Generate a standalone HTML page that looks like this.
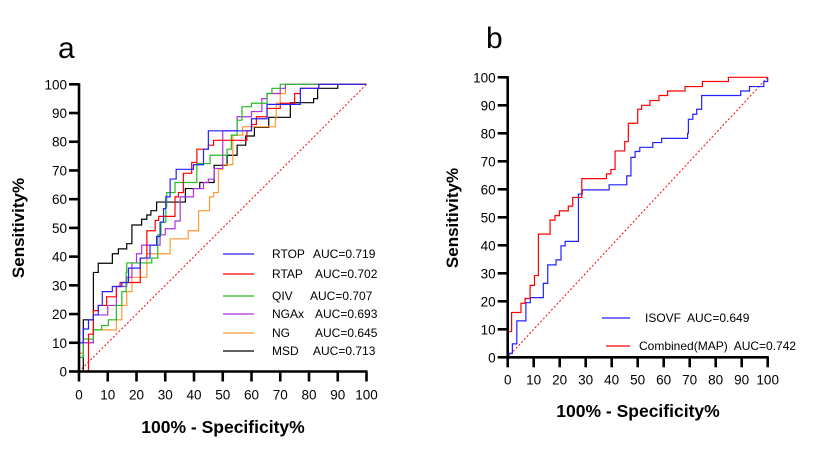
<!DOCTYPE html>
<html><head><meta charset="utf-8"><style>
body{margin:0;background:#fff;}
svg{display:block;font-family:"Liberation Sans",sans-serif;}
text{white-space:pre;}
</style></head><body>
<svg id="s" width="820" height="459">
<text x="58" y="58" font-size="30">a</text>
<text x="486" y="48" font-size="30">b</text>
<text transform="translate(24,228) rotate(-90)" text-anchor="middle" font-size="17" font-weight="bold">Sensitivity%</text>
<text x="223" y="433" text-anchor="middle" font-size="17.5" font-weight="bold">100% - Specificity%</text>
<text transform="translate(458,218) rotate(-90)" text-anchor="middle" font-size="17" font-weight="bold">Sensitivity%</text>
<text x="638" y="417" text-anchor="middle" font-size="17.5" font-weight="bold">100% - Specificity%</text>
</svg>
<script>
const ticks=[0,10,20,30,40,50,60,70,80,90,100];
const rtopX=[0,1.5,3.3,5,6.7,8.1,11.6,14.9,17.2,21.3,24.7,27,28.2,29.4,30.2,31.7,33.8,39.8,43.3,45,45,57,60,65.4,77,83.4,100];
const rtopY=[10,14.8,18,19.7,23,27.8,29.6,31,36,39.5,44,47,52,56.7,60.8,67,70.4,72,77.4,78.8,83.8,83.8,88,93,98.6,100,100];
const rtapX=[0,3.3,5,6.7,9.6,13,14.3,21.3,23.6,26.5,27.7,33.4,34.6,36.3,39.2,41,45,46.8,57,58.4,60,61.7,65.4,70,75,77,83.4,100];
const rtapY=[0,13,21.2,23,26,29.6,31,39.5,49,52.6,54,60.8,62.3,69,72.8,77.4,78.8,80.5,80.5,83.8,86,88.7,91.6,93.4,96.8,98.6,100,100];
const qivX=[0,1.5,5,7.9,10.2,13,14.9,16.4,16.6,25.3,27.4,28.5,30.2,30.5,33.4,38.3,41,45.6,51.5,53,55,56.7,60,65.4,67.1,70,100];
const qivY=[4.9,11.3,14.5,16,18,23,27.8,34.5,37.8,39.5,47.6,52,57.3,62.3,65.8,65.8,72.4,75.3,77.4,82.3,87.5,92.2,93.4,96.8,98.6,100,100];
const ngaxX=[0,1.5,5,10,13,16.6,18.4,20,21.8,28.2,30,33.4,35.2,39.8,43.3,45,47,50,50,53,55,60,63.6,65.4,70,71.8,100];
const ngaxY=[4.9,10,19.7,23,29.6,32.8,37.8,41,44,47.6,49.7,52.4,60.8,63.7,65.8,67,70.7,74,83.8,83.8,88.7,90.5,95,96.8,98.6,100,100];
const ngX=[0,1.5,5,13,14.9,16.6,18.4,23.6,30,31.7,38,41.6,45.4,46.8,48.5,50,53.5,56.9,66.5,68.3,68.6,70,71.8,100];
const ngY=[6.4,10,14.5,18,23,27.8,32.8,41,41,46.2,49,56,60.8,62.3,70.4,72,82.3,85.2,85.2,88,93.4,96.8,100,100];
const msdX=[0,1.5,5,6.7,11.6,13.7,16.6,18.4,21.8,23.6,25,27,30,37,42,47,51.5,55,58,61,66,73.5,81.6,83,90,100];
const msdY=[0,18,34.5,37.7,41,42.7,44.5,51,53,54.5,56,59,59,63.7,65.8,71.8,75.3,78.8,82,85,88.5,93.6,95,98.6,100,100];
const isoX=[0,0.5,1.8,3.5,7,8.7,13.3,13.7,15.4,18.6,20.5,22.1,27.2,27.2,28.7,39,45.8,47.4,49,50.8,55.8,59.2,69.2,69.5,71.2,72.7,74.6,89.6,89.6,93,98.5,100];
const isoY=[0,1.4,4.8,13,19.5,21.3,21.3,26.4,33,34.8,39.8,41.4,41.4,58.3,59.8,61.6,64.8,71.4,73.5,75,76.7,78.2,80,85,86.8,88.6,93.5,93.5,95.1,96.7,98.5,100];
const comX=[0,0.2,1.5,5.1,6.7,8.6,10.3,11.8,16.3,18.2,19.9,23.3,25,28.5,38,39.7,41.3,45,46.4,50,51.5,54.7,58.2,61.5,68.2,74.9,84.9,100];
const comY=[0,9.2,16,19.3,21,25.7,29.2,44,49,50.6,52.3,54,57.1,63.8,65.5,67.1,73.7,77,83.6,88.6,90,91.7,93.5,95.1,96.7,98.5,100,100];
const NS='http://www.w3.org/2000/svg';
const svg=document.getElementById('s');
function mk(tag,attrs,parent){const e=document.createElementNS(NS,tag);for(const k in attrs)e.setAttribute(k,attrs[k]);(parent||svg).appendChild(e);return e;}
function chart(x0,x1,y0,y1,series,legend,suffix,xlOff){
  const sx=v=>x0+(x1-x0)*v/100, sy=v=>y0-(y0-y1)*v/100;
  const g=mk('g',{});
  
  
  const diag=mk('line',{x1:sx(0),y1:sy(0),x2:sx(100),y2:sy(100),stroke:'#f00','stroke-width':1,'stroke-dasharray':'2,2'},g);
  
  
  series.forEach(s=>{
    let d='M'+sx(s.x[0])+','+sy(s.y[0]);
    for(let i=1;i<s.x.length;i++){d+=' H'+sx(s.x[i])+' V'+sy(s.y[i]);}
    const p=mk('path',{d:d,fill:'none',stroke:s.c,'stroke-width':1.2},g);
    
    
  });
  const ax=mk('path',{d:`M${x0},${y1-1} V${y0} H${x1+1}`,fill:'none',stroke:'#000','stroke-width':2.6},g);
  
  
  ticks.forEach(t=>{
    mk('line',{x1:sx(t),y1:y0,x2:sx(t),y2:y0+10,stroke:'#000','stroke-width':2.6},g);
    mk('line',{x1:x0-10,y1:sy(t),x2:x0,y2:sy(t),stroke:'#000','stroke-width':2.6},g);
    const xl=mk('text',{x:sx(t),y:y0+xlOff,'text-anchor':'middle','font-size':13.5},g);xl.textContent=t;
    
    
    const yl=mk('text',{x:x0-12,y:sy(t)+5,'text-anchor':'end','font-size':13.5},g);yl.textContent=t;
    
    
  });
  legend.forEach(L=>{
    const le=mk('g',{},g);
    
    
    mk('line',{x1:L.lx1,y1:L.y,x2:L.lx2,y2:L.y,stroke:L.c,'stroke-width':1.2},le);
    const t=mk('text',{x:L.tx,y:L.y+4,'font-size':12},le);t.textContent=L.t;
    if(L.t2){const t2=mk('text',{x:L.tx2,y:L.y+4,'font-size':12},le);t2.textContent=L.t2;}
  });
}
chart(79,366.5,371.5,84.3,[
 {x:msdX,y:msdY,c:'#000',n:'msd'},{x:ngX,y:ngY,c:'#ff9933',n:'ng'},{x:ngaxX,y:ngaxY,c:'#b030e0',n:'ngax'},
 {x:qivX,y:qivY,c:'#22bb22',n:'qiv'},{x:rtapX,y:rtapY,c:'#f00',n:'rtap'},{x:rtopX,y:rtopY,c:'#2222ff',n:'rtop'}],
 [{c:'#2222ff',lx1:223,lx2:254,y:254,tx:272,t:'RTOP',tx2:313,t2:'AUC=0.719'},
  {c:'#f00',lx1:223,lx2:254,y:274,tx:272,t:'RTAP',tx2:315,t2:'AUC=0.702'},
  {c:'#22bb22',lx1:223,lx2:254,y:296,tx:272,t:'QIV',tx2:310,t2:'AUC=0.707'},
  {c:'#b030e0',lx1:223,lx2:254,y:314,tx:272,t:'NGAx',tx2:315,t2:'AUC=0.693'},
  {c:'#ff9933',lx1:223,lx2:254,y:333,tx:272,t:'NG',tx2:315,t2:'AUC=0.645'},
  {c:'#000',lx1:223,lx2:254,y:351,tx:272,t:'MSD',tx2:313,t2:'AUC=0.713'}],'a',28);
chart(507.7,767.7,357.3,77.3,[
 {x:isoX,y:isoY,c:'#2222ff',n:'isovf'},{x:comX,y:comY,c:'#f00',n:'combined-map'}],
 [{c:'#2222ff',lx1:602,lx2:630,y:318,tx:645,t:'ISOVF  AUC=0.649'},
  {c:'#f00',lx1:606,lx2:630,y:346,tx:639,t:'Combined(MAP)  AUC=0.742'}],'b',27);
</script>
</body></html>
